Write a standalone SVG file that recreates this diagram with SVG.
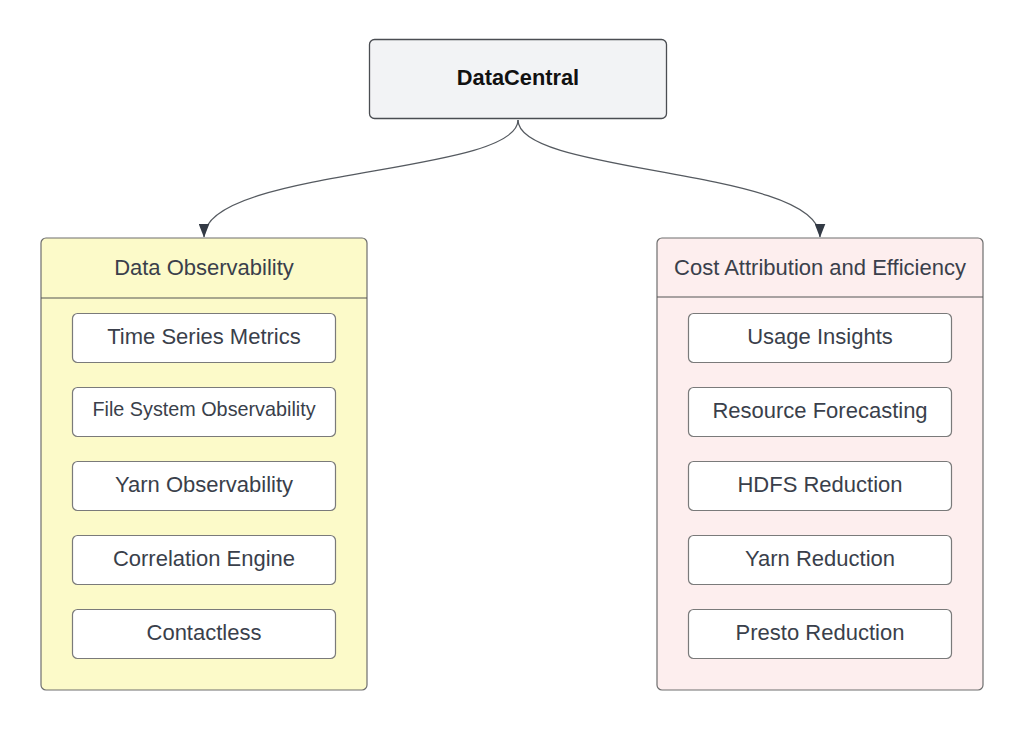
<svg xmlns="http://www.w3.org/2000/svg" width="1024" height="730" viewBox="0 0 1024 730">
<defs>
<marker id="arr" viewBox="0 0 14 11" refX="13.5" refY="5.5" markerWidth="14" markerHeight="11" markerUnits="userSpaceOnUse" orient="auto">
<path d="M0,0 L14,5.5 L0,11 Z" fill="#333a45"/>
</marker>
<style>
text{font-family:"Liberation Sans",Arial,sans-serif;fill:#3a3f4b;text-anchor:middle;dominant-baseline:central}
.root{fill:#f2f3f5;stroke:#4a4d52;stroke-width:1.3}
.ctr{stroke:#6e6e6e;stroke-width:1.2}
.yel{fill:#fcfac9}
.pnk{fill:#fdeeee}
.item{fill:#ffffff;stroke:#7a7a7a;stroke-width:1.2}
.div{stroke:#555;stroke-width:1.2}
.lbl{font-size:22px}
.hd{font-size:22px}
.conn{fill:none;stroke:#555a60;stroke-width:1.3;marker-end:url(#arr)}
</style>
</defs>
<rect width="1024" height="730" fill="#ffffff"/>
<g id="connectors">
<path class="conn" d="M518,120 C518,175 204,168 204,237"/>
<path class="conn" d="M518,120 C518,175 820,168 820,237"/>
</g>
<g id="datacentral">
<rect class="root" x="369.5" y="39.5" width="297" height="79" rx="5"/>
<text x="518" y="77" style="font-size:21.8px;font-weight:bold;fill:#111">DataCentral</text>
</g>
<g id="data-observability">
<rect class="ctr yel" x="41" y="238" width="326" height="452" rx="5"/>
<line class="div" x1="41" y1="298" x2="367" y2="298"/>
<text class="hd" x="204" y="267">Data Observability</text>
</g>
<g id="time-series-metrics"><rect class="item" x="72.5" y="313.5" width="263" height="49" rx="5"/><text class="lbl" x="204" y="336">Time Series Metrics</text></g>
<g id="file-system-observability"><rect class="item" x="72.5" y="387.5" width="263" height="49" rx="5"/><text x="204" y="409" style="font-size:19.8px">File System Observability</text></g>
<g id="yarn-observability"><rect class="item" x="72.5" y="461.5" width="263" height="49" rx="5"/><text class="lbl" x="204" y="484">Yarn Observability</text></g>
<g id="correlation-engine"><rect class="item" x="72.5" y="535.5" width="263" height="49" rx="5"/><text class="lbl" x="204" y="558">Correlation Engine</text></g>
<g id="contactless"><rect class="item" x="72.5" y="609.5" width="263" height="49" rx="5"/><text class="lbl" x="204" y="632">Contactless</text></g>
<g id="cost-attribution">
<rect class="ctr pnk" x="657" y="238" width="326" height="452" rx="5"/>
<line class="div" x1="657" y1="297" x2="983" y2="297"/>
<text class="hd" x="820" y="267">Cost Attribution and Efficiency</text>
</g>
<g id="usage-insights"><rect class="item" x="688.5" y="313.5" width="263" height="49" rx="5"/><text class="lbl" x="820" y="336">Usage Insights</text></g>
<g id="resource-forecasting"><rect class="item" x="688.5" y="387.5" width="263" height="49" rx="5"/><text class="lbl" x="820" y="410">Resource Forecasting</text></g>
<g id="hdfs-reduction"><rect class="item" x="688.5" y="461.5" width="263" height="49" rx="5"/><text class="lbl" x="820" y="484">HDFS Reduction</text></g>
<g id="yarn-reduction"><rect class="item" x="688.5" y="535.5" width="263" height="49" rx="5"/><text class="lbl" x="820" y="558">Yarn Reduction</text></g>
<g id="presto-reduction"><rect class="item" x="688.5" y="609.5" width="263" height="49" rx="5"/><text class="lbl" x="820" y="632">Presto Reduction</text></g>
</svg>
